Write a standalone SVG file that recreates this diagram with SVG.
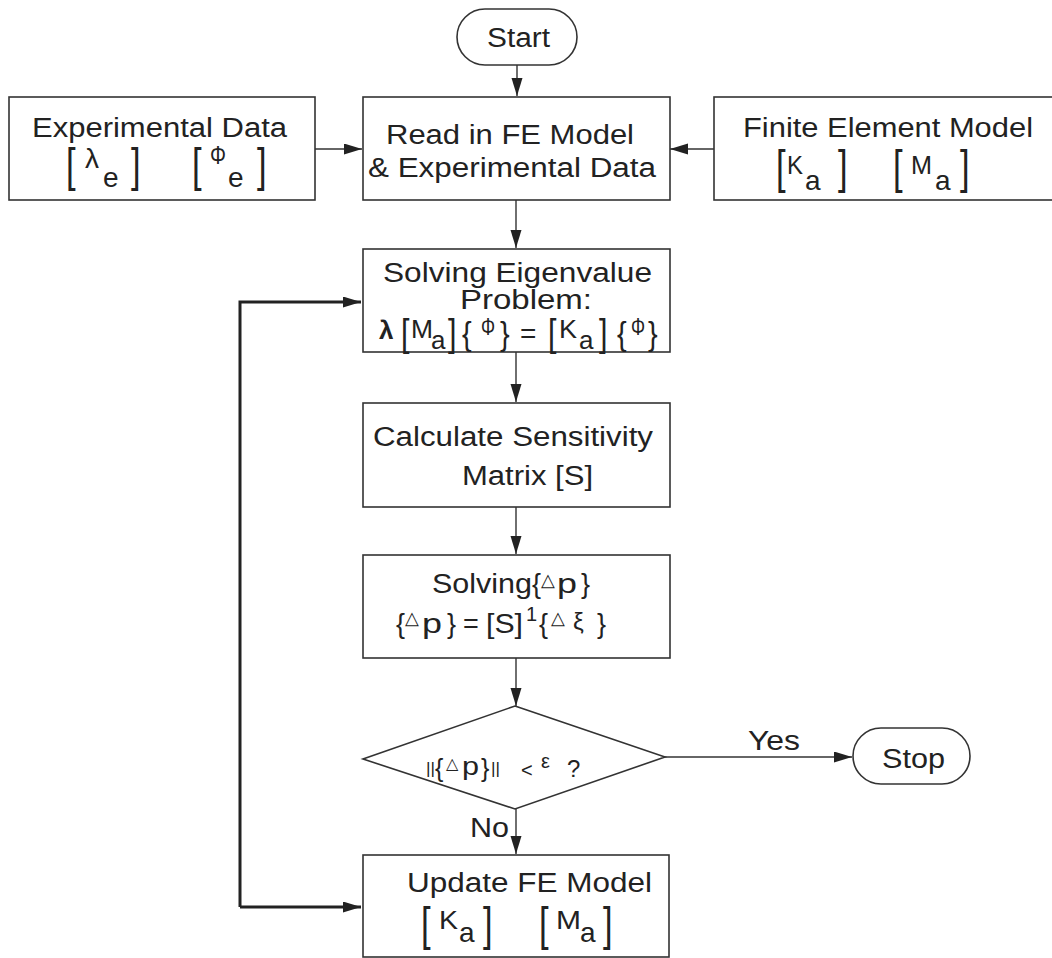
<svg xmlns="http://www.w3.org/2000/svg" width="1052" height="958" viewBox="0 0 1052 958">
<style>
text{font-family:"Liberation Sans",Arial,sans-serif;fill:#222}
.t{font-size:27px}
.s{font-size:25px}
.sub{font-size:28px}
.br{font-size:46px}
.box{fill:#fff;stroke:#333;stroke-width:1.6}
.ln{fill:none;stroke:#333;stroke-width:1.4}
.thick{fill:none;stroke:#222;stroke-width:3}
</style>
<defs>
<marker id="ah" markerUnits="userSpaceOnUse" markerWidth="20" markerHeight="12" refX="18" refY="5.5" orient="auto">
<path d="M0,0 L18,5.5 L0,11 z" fill="#222"/>
</marker>
</defs>
<rect width="1052" height="958" fill="#fff"/>

<g id="connectors">
<line class="ln" x1="517" y1="65" x2="517" y2="96" marker-end="url(#ah)"/>
<line class="ln" x1="315" y1="149" x2="362" y2="149" marker-end="url(#ah)"/>
<line class="ln" x1="714" y1="149" x2="670" y2="149" marker-end="url(#ah)"/>
<line class="ln" x1="516" y1="200" x2="516" y2="248" marker-end="url(#ah)"/>
<line class="ln" x1="516" y1="352" x2="516" y2="402" marker-end="url(#ah)"/>
<line class="ln" x1="516" y1="507" x2="516" y2="554" marker-end="url(#ah)"/>
<line class="ln" x1="516" y1="658" x2="516" y2="706" marker-end="url(#ah)"/>
<line class="ln" x1="665" y1="757" x2="852" y2="757" marker-end="url(#ah)"/>
<line class="ln" x1="516" y1="809" x2="516" y2="854" marker-end="url(#ah)"/>
<polyline class="thick" points="240,907 240,302 361,302" marker-end="url(#ah)"/>
<line class="thick" x1="240" y1="907" x2="361" y2="907" marker-end="url(#ah)"/>
<text class="t" x="748" y="750" textLength="52" lengthAdjust="spacingAndGlyphs">Yes</text>
<text class="t" x="470" y="837" textLength="39" lengthAdjust="spacingAndGlyphs">No</text>
</g>

<g id="start">
<rect class="box" x="457" y="9" width="120" height="56" rx="28" ry="28"/>
<text class="t" x="487" y="47" textLength="63" lengthAdjust="spacingAndGlyphs">Start</text>
</g>

<g id="experimental-data">
<rect class="box" x="9" y="97" width="306" height="103"/>
<text class="t" x="32" y="137" textLength="255" lengthAdjust="spacingAndGlyphs">Experimental Data</text>
<text class="br" transform="translate(66,181) scale(0.75,1)">[</text>
<text class="sub" x="85" y="168">λ</text>
<text class="sub" x="103" y="187">e</text>
<text class="br" transform="translate(131,181) scale(0.75,1)">]</text>
<text class="br" transform="translate(192,181) scale(0.75,1)">[</text>
<text style="font-size:25px" transform="translate(210,164) scale(0.8,1.05)">Φ</text>
<text class="sub" x="228" y="187">e</text>
<text class="br" transform="translate(257,181) scale(0.75,1)">]</text>
</g>

<g id="read-in">
<rect class="box" x="363" y="97" width="307" height="103"/>
<text class="t" x="386" y="144" textLength="248" lengthAdjust="spacingAndGlyphs">Read in FE Model</text>
<text class="t" x="368" y="177" textLength="288" lengthAdjust="spacingAndGlyphs">&amp; Experimental Data</text>
</g>

<g id="finite-element-model">
<rect class="box" x="714" y="97" width="345" height="103"/>
<text class="t" x="743" y="137" textLength="290" lengthAdjust="spacingAndGlyphs">Finite Element Model</text>
<text class="br" transform="translate(776,183) scale(0.75,1)">[</text>
<text class="s" x="787" y="174" textLength="16" lengthAdjust="spacingAndGlyphs">K</text>
<text class="sub" x="805" y="190">a</text>
<text class="br" transform="translate(838,183) scale(0.75,1)">]</text>
<text class="br" transform="translate(893,183) scale(0.75,1)">[</text>
<text class="s" x="911" y="174" textLength="21" lengthAdjust="spacingAndGlyphs">M</text>
<text class="sub" x="935" y="190">a</text>
<text class="br" transform="translate(960,183) scale(0.75,1)">]</text>
</g>

<g id="solving-eigenvalue">
<rect class="box" x="363" y="249" width="307" height="103"/>
<text class="t" x="383" y="282" textLength="269" lengthAdjust="spacingAndGlyphs">Solving Eigenvalue</text>
<text class="t" x="460" y="309" textLength="132" lengthAdjust="spacingAndGlyphs">Problem:</text>
<text style="font-size:26px;font-weight:bold" x="379" y="339">λ</text>
<text style="font-size:38px" transform="translate(401,346) scale(0.8,1)">[</text>
<text style="font-size:25px" x="411" y="338" textLength="22" lengthAdjust="spacingAndGlyphs">M</text>
<text style="font-size:26px" x="431" y="349">a</text>
<text style="font-size:38px" transform="translate(448,346) scale(0.8,1)">]</text>
<text style="font-size:34px" transform="translate(462,345) scale(0.85,1)">{</text>
<text style="font-size:22px" transform="translate(481,335) scale(0.8,1.05)">Φ</text>
<text style="font-size:34px" transform="translate(500,345) scale(0.85,1)">}</text>
<text style="font-size:28px" x="520" y="343">=</text>
<text style="font-size:38px" transform="translate(548,346) scale(0.8,1)">[</text>
<text style="font-size:25px" x="559" y="338" textLength="18" lengthAdjust="spacingAndGlyphs">K</text>
<text style="font-size:26px" x="579" y="349">a</text>
<text style="font-size:38px" transform="translate(599,346) scale(0.8,1)">]</text>
<text style="font-size:34px" transform="translate(617,345) scale(0.85,1)">{</text>
<text style="font-size:22px" transform="translate(631,335) scale(0.8,1.05)">Φ</text>
<text style="font-size:34px" transform="translate(648,345) scale(0.85,1)">}</text>
</g>

<g id="calculate-sensitivity">
<rect class="box" x="363" y="403" width="307" height="104"/>
<text class="t" x="373" y="446" textLength="280" lengthAdjust="spacingAndGlyphs">Calculate Sensitivity</text>
<text class="t" x="462" y="485" textLength="131" lengthAdjust="spacingAndGlyphs">Matrix [S]</text>
</g>

<g id="solving-delta-p">
<rect class="box" x="363" y="555" width="307" height="103"/>
<text class="t" x="432" y="593" textLength="100" lengthAdjust="spacingAndGlyphs">Solving</text>
<text class="t" x="532" y="593">{</text>
<text style="font-size:18px" x="541" y="586">△</text>
<text class="t" x="557" y="593" textLength="20" lengthAdjust="spacingAndGlyphs">p</text>
<text class="t" x="581" y="593">}</text>
<text class="t" x="396" y="633">{</text>
<text style="font-size:18px" x="405" y="624">△</text>
<text class="t" x="422" y="633" textLength="20" lengthAdjust="spacingAndGlyphs">p</text>
<text class="t" x="447" y="633">}</text>
<text class="t" x="463" y="633">=</text>
<text class="t" x="486" y="633" textLength="37" lengthAdjust="spacingAndGlyphs">[S]</text>
<text style="font-size:20px" x="526" y="621">1</text>
<text class="t" x="539" y="633">{</text>
<text style="font-size:18px" x="551" y="624">△</text>
<text style="font-size:24px" x="573" y="630">ξ</text>
<text class="t" x="597" y="633">}</text>
</g>

<g id="decision">
<polygon class="box" points="515,706 665,757 515,809 363,759"/>
<text style="font-size:17px" x="426" y="774" textLength="9" lengthAdjust="spacingAndGlyphs">||</text>
<text style="font-size:25px" x="435" y="777">{</text>
<text style="font-size:16px" x="446" y="769">△</text>
<text style="font-size:25px" x="462" y="775" textLength="17" lengthAdjust="spacingAndGlyphs">p</text>
<text style="font-size:25px" x="481" y="777">}</text>
<text style="font-size:17px" x="491" y="774" textLength="9" lengthAdjust="spacingAndGlyphs">||</text>
<text style="font-size:20px" x="521" y="777">&lt;</text>
<text style="font-size:20px" x="541" y="768">ε</text>
<text style="font-size:24px" x="567" y="777">?</text>
</g>

<g id="stop">
<rect class="box" x="853" y="728" width="117" height="56" rx="28" ry="28"/>
<text class="t" x="882" y="768" textLength="63" lengthAdjust="spacingAndGlyphs">Stop</text>
</g>

<g id="update-fe-model">
<rect class="box" x="363" y="855" width="306" height="102"/>
<text class="t" x="407" y="892" textLength="245" lengthAdjust="spacingAndGlyphs">Update FE Model</text>
<text class="br" transform="translate(421,940) scale(0.75,1)">[</text>
<text class="s" x="439" y="929" textLength="19" lengthAdjust="spacingAndGlyphs">K</text>
<text class="sub" x="459" y="942">a</text>
<text class="br" transform="translate(483,940) scale(0.75,1)">]</text>
<text class="br" transform="translate(539,940) scale(0.75,1)">[</text>
<text class="s" x="556" y="929" textLength="25" lengthAdjust="spacingAndGlyphs">M</text>
<text class="sub" x="580" y="942">a</text>
<text class="br" transform="translate(603,940) scale(0.75,1)">]</text>
</g>
</svg>
